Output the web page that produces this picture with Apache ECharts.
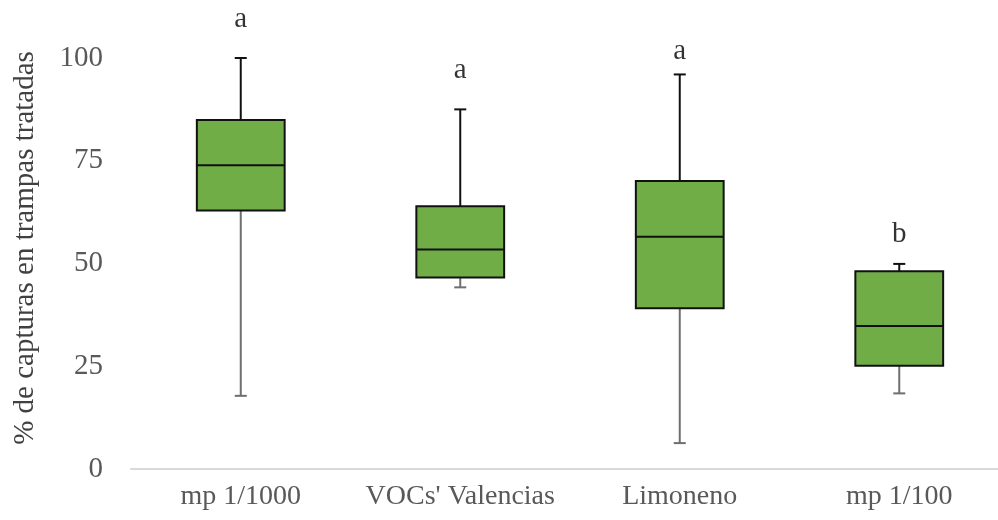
<!DOCTYPE html>
<html>
<head>
<meta charset="utf-8">
<script src="https://cdn.jsdelivr.net/npm/echarts@6/dist/echarts.min.js"></script>
<style>
  html, body { margin: 0; padding: 0; background: #fff; }
  #chart { width: 998px; height: 520px; }
</style>
</head>
<body>
<div id="chart"></div>
<script>
// Treatments and their box statistics (% of captures in treated traps)
const categories = ['mp 1/1000', "VOCs' Valencias", 'Limoneno', 'mp 1/100'];
const whiskerLow = [17.8, 44.2, 6.3, 18.4];
const q1 = [62.9, 46.6, 39.1, 25.1];
const median = [73.9, 53.4, 56.5, 34.8];
const q3 = [84.9, 63.9, 70.1, 48.1];
const whiskerHigh = [100, 87.5, 96.0, 49.9];

// Significance letters and the value height they sit at
const letters = ['a', 'a', 'a', 'b'];
const letterY = [109.5, 97, 101.5, 57];

const yTicks = [0, 25, 50, 75, 100];
const yTitle = '% de capturas en trampas tratadas';

const FONT = '"Liberation Serif", "Times New Roman", serif';

const boxData = categories.map((c, i) => [i, whiskerLow[i], q1[i], median[i], q3[i], whiskerHigh[i]]);
const letterData = categories.map((c, i) => [i, letterY[i], letters[i]]);

function renderBox(params, api) {
  const i = api.value(0);
  const band = api.size([1, 0])[0];
  const half = band * 0.2;
  const cap = 6;
  const pLow = api.coord([i, api.value(1)]);
  const pQ1 = api.coord([i, api.value(2)]);
  const pMed = api.coord([i, api.value(3)]);
  const pQ3 = api.coord([i, api.value(4)]);
  const pHigh = api.coord([i, api.value(5)]);
  const x = pQ1[0];
  const dark = { stroke: '#111', lineWidth: 2 };
  const grey = { stroke: '#6f6f6f', lineWidth: 2 };
  return {
    type: 'group',
    children: [
      // lower whisker
      { type: 'line', shape: { x1: x, y1: pQ1[1], x2: x, y2: pLow[1] }, style: grey },
      { type: 'line', shape: { x1: x - cap, y1: pLow[1], x2: x + cap, y2: pLow[1] }, style: grey },
      // upper whisker
      { type: 'line', shape: { x1: x, y1: pQ3[1], x2: x, y2: pHigh[1] }, style: dark },
      { type: 'line', shape: { x1: x - cap, y1: pHigh[1], x2: x + cap, y2: pHigh[1] }, style: dark },
      // box
      { type: 'rect', shape: { x: x - half, y: pQ3[1], width: half * 2, height: pQ1[1] - pQ3[1] },
        style: { fill: '#70AD47', stroke: '#111', lineWidth: 2 } },
      // median
      { type: 'line', shape: { x1: x - half, y1: pMed[1], x2: x + half, y2: pMed[1] }, style: dark }
    ]
  };
}

const chart = echarts.init(document.getElementById('chart'), null, { renderer: 'canvas' });
chart.setOption({
  animation: false,
  backgroundColor: '#fff',
  grid: { left: 131, top: 58, bottom: 51, width: 878, outerBoundsMode: 'none', containLabel: false },
  graphic: [{
    type: 'text',
    x: 25,
    y: 248,
    rotation: Math.PI / 2,
    style: {
      text: yTitle,
      fill: '#404040',
      font: '29px ' + FONT,
      textAlign: 'center',
      textVerticalAlign: 'middle'
    }
  }],
  xAxis: {
    type: 'category',
    data: categories,
    axisLine: { lineStyle: { color: '#d9d9d9', width: 2 } },
    axisTick: { show: false },
    axisLabel: { color: '#595959', fontFamily: FONT, fontSize: 28, margin: 14, interval: 0 },
    splitLine: { show: false }
  },
  yAxis: {
    type: 'value',
    min: 0,
    max: 100,
    interval: 25,
    axisLine: { show: false },
    axisTick: { show: false },
    splitLine: { show: false },
    axisLabel: {
      color: '#595959', fontFamily: FONT, fontSize: 29, margin: 28,
      formatter: v => (yTicks.includes(v) ? String(v) : '')
    }
  },
  series: [
    {
      type: 'custom',
      renderItem: renderBox,
      encode: { x: 0, y: [1, 2, 3, 4, 5] },
      data: boxData,
      clip: false
    },
    {
      type: 'scatter',
      symbolSize: 0,
      data: letterData,
      clip: false,
      label: {
        show: true,
        position: 'inside',
        formatter: p => p.data[2],
        color: '#000',
        fontFamily: FONT,
        fontSize: 29
      },
      silent: true
    }
  ]
});
</script>
</body>
</html>
